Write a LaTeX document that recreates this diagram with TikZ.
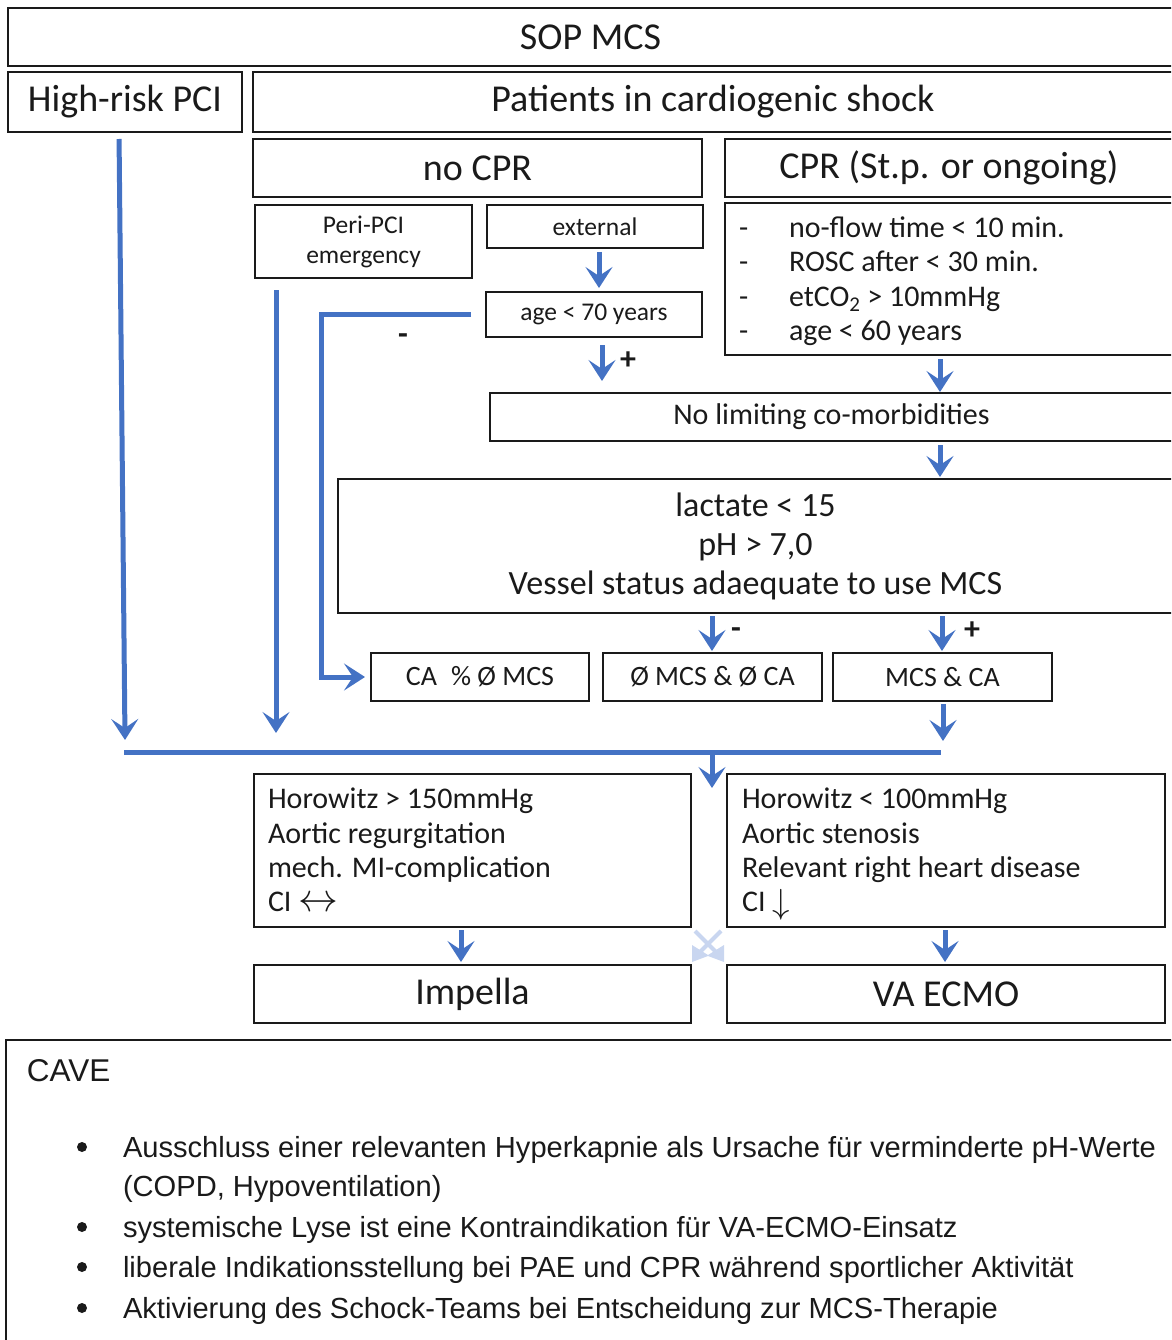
\documentclass[tikz,border=0pt]{standalone}
\usepackage{fontspec}
\setmainfont{Carlito}
\newfontfamily\arialf{Liberation Sans}
\usetikzlibrary{arrows.meta,calc}
\definecolor{arrblue}{HTML}{4472C4}
\definecolor{ghost}{HTML}{C9D6F0}
\definecolor{ink}{HTML}{1A1A1A}
\newcommand{\fsz}[1]{\fontsize{#1}{#1}\selectfont}
\begin{document}
\begin{tikzpicture}[x=1pt,y=-1pt,
  box/.style={draw=ink, line width=1.6pt, inner sep=0pt, outer sep=0pt, anchor=north west, text=ink},
  big/.style={font=\fsz{38}},
  arr/.style={draw=arrblue, line width=5pt, -{Stealth[length=21pt,width=27pt,inset=9pt]}},
  conn/.style={draw=arrblue, line width=5pt},
  txt/.style={inner sep=0pt, outer sep=0pt, anchor=base west, text=ink},
  lbl/.style={inner sep=0pt, text=ink, font=\bfseries\fsz{32}}
]
\useasboundingbox (0,0) rectangle (1171,1340);
\clip (0,0) rectangle (1171,1340);

% top rows
\node[box,big,minimum width=1165pt,minimum height=58pt] (sop) at (8,8) {SOP MCS};
\node[box,big,minimum width=234pt,minimum height=60pt] (hr) at (8,72) {High-risk PCI};
\node[box,big,minimum width=920pt,minimum height=60pt] (pat) at (253,72) {Patients in cardiogenic shock};
\node[box,big,minimum width=449pt,minimum height=58pt] (nocpr) at (253,139) {no CPR};
\node[box,big,minimum width=448pt,minimum height=58pt] (cpr) at (725,139) {CPR (St.p. or ongoing)};

% no CPR branch
\node[box,font=\fontsize{25.5}{30}\selectfont,align=center,minimum width=217pt,minimum height=73pt] (peri) at (255,205) {Peri-PCI\\emergency};
\node[box,font=\fsz{25.5},minimum width=216pt,minimum height=43pt] (ext) at (487,205) {external};
\node[box,font=\fsz{25.5},minimum width=216pt,minimum height=45pt] (age) at (486,292) {age < 70 years};

% CPR criteria
\node[box,minimum width=448pt,minimum height=152pt] (crit) at (725,203) {};
\begin{scope}[font=\fsz{30}]
\node[txt] (d1) at (739,237) {-};
\node[txt] (c1) at (789,237) {no-flow time < 10 min.};
\node[txt] (d2) at (739,272) {-};
\node[txt] (c2) at (789,272) {ROSC after < 30 min.};
\node[txt] (d3) at (739,306) {-};
\node[txt] (c3) at (789,306) {etCO\textsubscript{2} > 10mmHg};
\node[txt] (d4) at (739,340) {-};
\node[txt] (c4) at (789,340) {age < 60 years};
\end{scope}

\node[box,font=\fsz{30},minimum width=683pt,minimum height=48pt] (nolim) at (490,393) {No limiting co-morbidities};
\node[box,font=\fontsize{34}{39}\selectfont,align=center,minimum width=835pt,minimum height=134pt] (lac) at (338,479) {lactate < 15\\pH > 7,0\\Vessel status adaequate to use MCS};

\node[box,font=\fsz{28},minimum width=218pt,minimum height=48pt] (caA) at (371,653) {CA\enspace\% Ø MCS};
\node[box,font=\fsz{28},minimum width=219pt,minimum height=48pt] (caB) at (603,653) {Ø MCS \& Ø CA};
\node[box,font=\fsz{28},minimum width=219pt,minimum height=48pt] (caC) at (833,653) {MCS \& CA};

% Horowitz boxes
\node[box,minimum width=437pt,minimum height=153pt] (horL) at (254,774) {};
\node[box,minimum width=438pt,minimum height=153pt] (horR) at (727,774) {};
\begin{scope}[font=\fsz{30}]
\node[txt] (l1) at (268,808) {Horowitz > 150mmHg};
\node[txt] (l2) at (268,843) {Aortic regurgitation};
\node[txt] (l3) at (268,877) {mech. MI-complication};
\node[txt] (l4) at (268,911) {CI \smash{\scalebox{1.6}{$\leftrightarrow$}}};
\node[txt] (r1) at (742,808) {Horowitz < 100mmHg};
\node[txt] (r2) at (742,843) {Aortic stenosis};
\node[txt] (r3) at (742,877) {Relevant right heart disease};
\node[txt] (r4) at (742,911) {CI \smash{\raisebox{-2pt}{\scalebox{1.4}{$\downarrow$}}}};
\end{scope}

\node[box,big,minimum width=437pt,minimum height=58pt] (imp) at (254,965) {Impella};
\node[box,big,minimum width=438pt,minimum height=58pt] (va) at (727,965) {VA ECMO};

% CAVE
\node[box,minimum width=1170pt,minimum height=320pt] (cave) at (6,1040) {};
\begin{scope}[font=\arialf\fsz{29.1}]
\node[txt,font=\arialf\fsz{31.5}] (cavet) at (27,1081) {CAVE};
\node[txt] (b1) at (123,1157) {Ausschluss einer relevanten Hyperkapnie als Ursache für verminderte pH-Werte};
\node[txt] (b1b) at (123,1196) {(COPD, Hypoventilation)};
\node[txt] (b2) at (123,1237) {systemische Lyse ist eine Kontraindikation für VA-ECMO-Einsatz};
\node[txt] (b3) at (123,1277) {liberale Indikationsstellung bei PAE und CPR während sportlicher Aktivität};
\node[txt] (b4) at (123,1318) {Aktivierung des Schock-Teams bei Entscheidung zur MCS-Therapie};
\end{scope}
\foreach \yy in {1147,1227,1267,1308} \fill[ink] (82,\yy) circle (5pt);

% connector coordinates
\coordinate (xHR) at (119,0);
\coordinate (xPeri) at (276,0);
\coordinate (xExt) at (599,0);
\coordinate (xAge) at (602,0);
\coordinate (xL) at (321,0);
\coordinate (xR) at (940,0);
\coordinate (xM) at (712,0);
\coordinate (xP) at (942,0);
\coordinate (xC) at (943,0);
\coordinate (xImp) at (461,0);
\coordinate (xVA) at (945,0);
\coordinate (hlL) at (124,752);
\coordinate (hlR) at (941,752);
\coordinate (hrEnd) at (125,740);
\coordinate (periEnd) at (276,733);
\coordinate (ageEnd) at (602,381);

% connectors
\draw[arr,shorten <=7pt] (hr.south -| xHR) -- (hrEnd);
\draw[arr,shorten <=12pt] (peri.south -| xPeri) -- (periEnd);
\draw[arr,shorten <=4pt,shorten >=4pt] (ext.south -| xExt) -- (age.north -| xExt);
\draw[arr,shorten <=8pt] (age.south -| xAge) -- (ageEnd);
\node[lbl] (plusA) at (628,361) {+};
\draw[arr,shorten <=15pt,shorten >=6pt] (age.west) -| (xL |- caA.west) -- (caA.west);
\node[lbl] (minA) at (403,339) {-};
\draw[arr,shorten <=4pt,shorten >=1pt] (crit.south -| xR) -- (nolim.north -| xR);
\draw[arr,shorten <=4pt,shorten >=2pt] (nolim.south -| xR) -- (lac.north -| xR);
\draw[arr,shorten <=3pt,shorten >=2pt] (lac.south -| xM) -- (caB.north -| xM);
\node[lbl] (minB) at (736,633) {-};
\draw[arr,shorten <=3pt,shorten >=2pt] (lac.south -| xP) -- (caC.north -| xP);
\node[lbl] (plusB) at (972,631) {+};
\draw[arr,shorten <=3pt,shorten >=11pt] (caC.south -| xC) -- (hlR -| xC);
\draw[conn] (hlL) -- (hlR);
\draw[arr,shorten >=-14pt] (hlL -| xM) -- (horL.north -| xM);
\draw[arr,shorten <=3pt,shorten >=3pt] (horL.south -| xImp) -- (imp.north -| xImp);
\draw[arr,shorten <=3pt,shorten >=3pt] (horR.south -| xVA) -- (va.north -| xVA);

% faint artifact between the lower boxes
\begin{scope}[ghost, line width=4pt]
\draw (695,931) -- (721,957);
\draw (721,931) -- (695,957);
\fill (692,945) -- (708,955) -- (724,945) -- (724,962) -- (708,956) -- (692,962) -- cycle;
\end{scope}
\end{tikzpicture}
\end{document}
